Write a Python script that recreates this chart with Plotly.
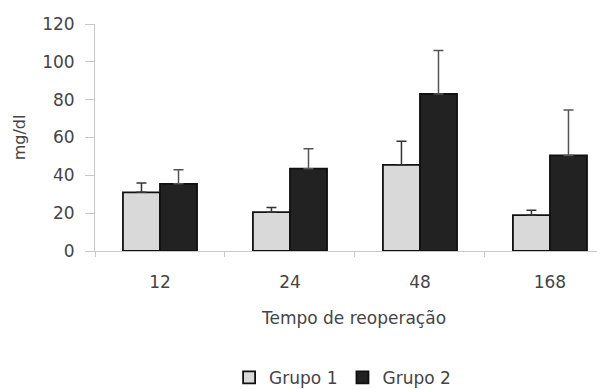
import plotly.graph_objects as go

categories = ["12", "24", "48", "168"]
grupo1 = [31, 20.5, 45.5, 19]
grupo1_err = [5, 2.5, 12.5, 2.5]
grupo2 = [35.5, 43.5, 83, 50.5]
grupo2_err = [7.5, 10.5, 23, 24]
y_ticks = [0, 20, 40, 60, 80, 100, 120]

fig = go.Figure()
fig.add_trace(go.Bar(
    x=categories, y=grupo1, name="Grupo 1",
    marker=dict(color="#d9d9d9", line=dict(color="#111111", width=1.8)),
    error_y=dict(type="data", array=grupo1_err, arrayminus=[0]*4, symmetric=False,
                 color="#333333", thickness=1.5, width=5),
))
fig.add_trace(go.Bar(
    x=categories, y=grupo2, name="Grupo 2",
    marker=dict(color="#222222", line=dict(color="#111111", width=1.8)),
    error_y=dict(type="data", array=grupo2_err, arrayminus=[0]*4, symmetric=False,
                 color="#555555", thickness=1.5, width=5),
))

font = "DejaVu Sans, Verdana, sans-serif"
fig.update_layout(
    width=605, height=389,
    margin=dict(l=87, r=0, t=16, b=146),
    paper_bgcolor="white", plot_bgcolor="white",
    barmode="group", bargap=0.43, bargroupgap=0,
    font=dict(family=font, size=17, color="#444444"),
    showlegend=True,
    legend=dict(orientation="h", x=0.478, xanchor="center", y=-0.559, yanchor="middle",
                font=dict(size=17), traceorder="normal", itemwidth=30),
    xaxis=dict(
        type="category", range=[-0.5, 3.485],
        showline=True, linecolor="#c8c8c8", linewidth=1,
        ticks="outside", tickson="boundaries", ticklen=5, tickcolor="#c8c8c8",
        ticklabelstandoff=16,
        title=dict(text="Tempo de reoperação", standoff=20, font=dict(size=17)),
        showgrid=False,
    ),
    yaxis=dict(
        range=[0, 120], tickvals=y_ticks,
        showline=True, linecolor="#c8c8c8", linewidth=1,
        ticks="outside", ticklen=9, tickcolor="#c8c8c8",
        ticklabelstandoff=7,
        showgrid=False, zeroline=False,
        title=dict(text="mg/dl", standoff=12, font=dict(size=16)),
    ),
)

fig.write_html("out.html")
